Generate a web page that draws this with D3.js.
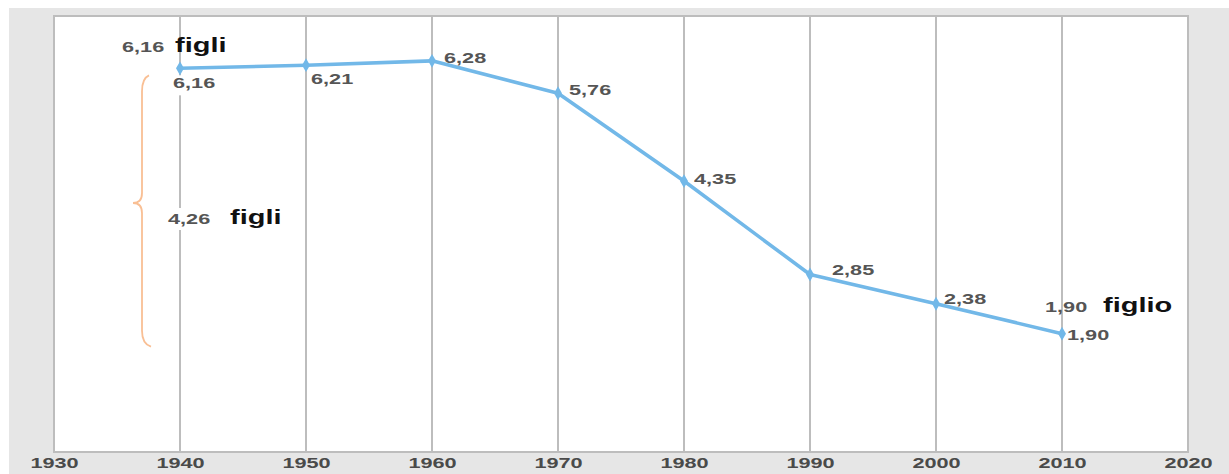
<!DOCTYPE html>
<html>
<head>
<meta charset="utf-8">
<script src="https://cdn.jsdelivr.net/npm/d3@7"></script>
<style>
  html, body { margin: 0; padding: 0; background: #fff; }
  svg { display: block; }
  text { font-family: "Liberation Sans", Arial, sans-serif; }
</style>
</head>
<body>
<svg id="chart" width="1229" height="474"></svg>
<script>
// Fertility rate (children per woman) by decade
const years = [1940, 1950, 1960, 1970, 1980, 1990, 2000, 2010];
const rates = [6.16, 6.21, 6.28, 5.76, 4.35, 2.85, 2.38, 1.90];
const rateLabels = ["6,16", "6,21", "6,28", "5,76", "4,35", "2,85", "2,38", "1,90"];
const tickYears = [1930, 1940, 1950, 1960, 1970, 1980, 1990, 2000, 2010, 2020];
const dropLabel = "4,26";
const unitPlural = "figli";
const unitSingular = "figlio";

const svg = d3.select("#chart");
const W = 1229, H = 474;
const m = { left: 54, right: 1188, top: 16, bottom: 452 };
const stretch = 1.55; // wide lettering

const x = d3.scaleLinear().domain([1930, 2020]).range([m.left, m.right]);
const y = d3.scaleLinear().domain([0, 7]).range([m.bottom, m.top]);

// outer grey panel
svg.append("rect").attr("x", 9).attr("y", 8).attr("width", W - 9).attr("height", H - 8).attr("fill", "#e6e6e6");
// plot area
svg.append("rect").attr("x", m.left).attr("y", m.top).attr("width", m.right - m.left).attr("height", m.bottom - m.top)
  .attr("fill", "#fff").attr("stroke", "#bdbdbd").attr("stroke-width", 2);

// vertical grid lines at inner decades
svg.append("g").selectAll("line").data(tickYears.slice(1, -1)).join("line")
  .attr("x1", d => x(d)).attr("x2", d => x(d)).attr("y1", m.top).attr("y2", m.bottom)
  .attr("stroke", "#bdbdbd").attr("stroke-width", 2);

// bottom axis labels (stretched horizontally around their own centre)
const axis = d3.axisBottom(x).tickValues(tickYears).tickFormat(d3.format("d")).tickSize(0).tickPadding(0);
const ax = svg.append("g").attr("transform", `translate(0,${m.bottom})`).call(axis);
ax.select(".domain").remove();
ax.selectAll("text")
  .attr("y", 0).attr("dy", null)
  .attr("transform", `translate(0,12.5) scale(${stretch},1)`)
  .attr("dominant-baseline", "middle")
  .attr("font-size", 14).attr("font-weight", "bold").attr("fill", "#4a4a4a")
  .attr("font-family", "'Liberation Sans', Arial, sans-serif");

// orange brace spanning the drop from 1940 to 2010
const bx = 142, bTop = y(rates[0]) + 7, bBot = y(rates[rates.length - 1]) + 13, bMid = (bTop + bBot) / 2 - 8;
const brace = d3.path();
brace.moveTo(bx + 7, bTop);
brace.quadraticCurveTo(bx, bTop + 3, bx, bTop + 16);
brace.lineTo(bx, bMid - 10);
brace.quadraticCurveTo(bx, bMid, bx - 9, bMid);
brace.quadraticCurveTo(bx, bMid, bx, bMid + 10);
brace.lineTo(bx, bBot - 16);
brace.quadraticCurveTo(bx, bBot - 3, bx + 9, bBot);
svg.append("path").attr("d", brace.toString()).attr("fill", "none")
  .attr("stroke", "#f9bf94").attr("stroke-width", 1.8);

// white gaps behind labels sitting on grid lines
function labelBox(cx, cy, w, h) {
  svg.append("rect").attr("x", cx).attr("y", cy).attr("width", w).attr("height", h).attr("fill", "#fff");
}
labelBox(x(1940) - 4, y(rates[0]) + 7, 12, 20);
labelBox(x(1940) - 4, 208, 12, 22);

// line
const line = d3.line().x((d, i) => x(years[i])).y(d => y(d));
svg.append("path").datum(rates).attr("d", line).attr("fill", "none")
  .attr("stroke", "#72b8e8").attr("stroke-width", 3.6).attr("stroke-linejoin", "round");

// diamond markers
svg.append("g").selectAll("path").data(rates).join("path")
  .attr("d", d3.symbol(d3.symbolDiamond, 55))
  .attr("transform", (d, i) => `translate(${x(years[i])},${y(d)})`)
  .attr("fill", "#72b8e8");

// text helper: left-anchored, vertically centred, horizontally stretched
function wideText(g, px, py, size, color, str, sx) {
  return g.append("text")
    .attr("transform", `translate(${px},${py}) scale(${sx || stretch},1)`)
    .attr("dominant-baseline", "middle")
    .attr("font-size", size).attr("font-weight", "bold").attr("fill", color)
    .text(str);
}

// value labels next to each point
const labelOffsets = [[-7, 16], [5, 15], [12, -2], [11, -2], [10, -1], [22, -3], [8, -3], [5, 3]];
const vl = svg.append("g");
rates.forEach((d, i) => {
  wideText(vl, x(years[i]) + labelOffsets[i][0], y(d) + labelOffsets[i][1], 14, "#555", rateLabels[i]);
});

// start / end / difference annotations
function note(num, unit, nx, ux, yy) {
  wideText(svg, nx, yy, 14, "#555", num);
  wideText(svg, ux, yy - 1.5, 20, "#111", unit, 1.45);
}
note(rateLabels[0], unitPlural, 122, 175, y(rates[0]) - 20);
note(dropLabel, unitPlural, 168, 230, 220);
note(rateLabels[rates.length - 1], unitSingular, 1045, 1103, y(rates[rates.length - 1]) - 25);
</script>
</body>
</html>
